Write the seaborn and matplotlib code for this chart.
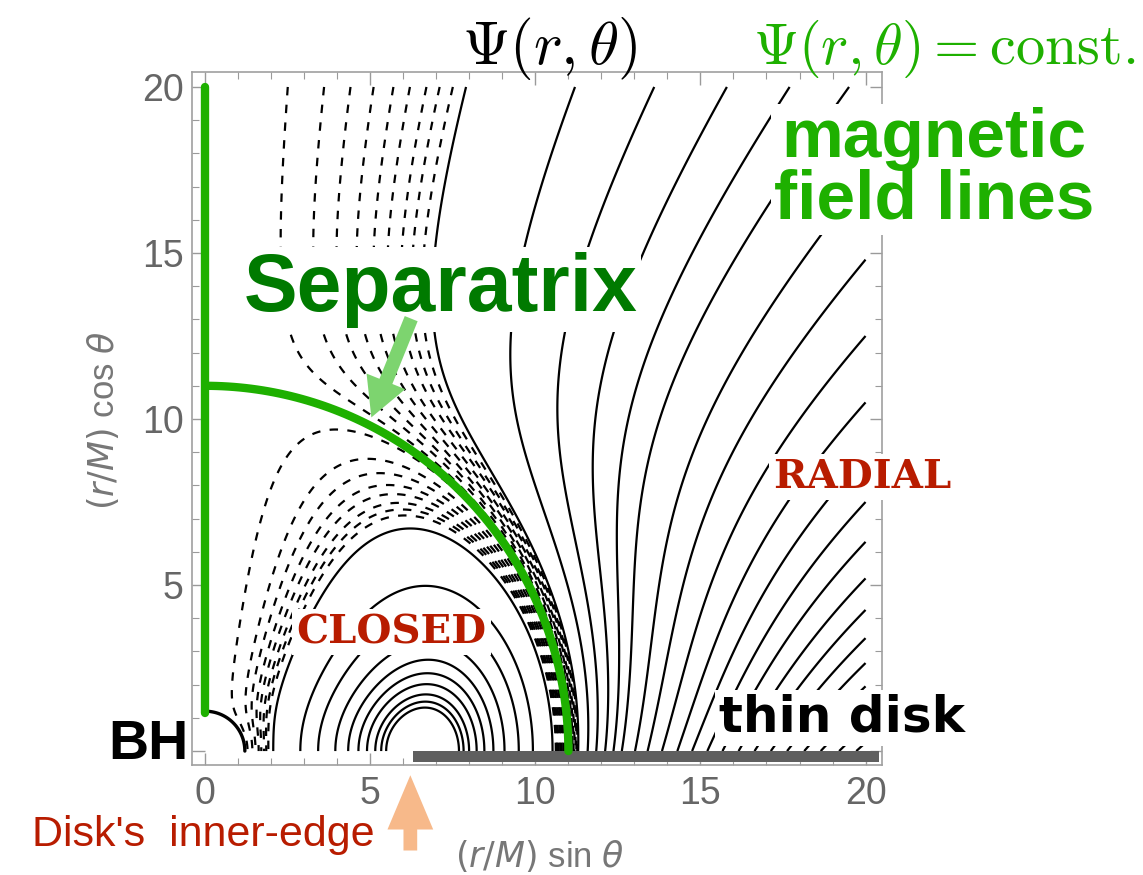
import numpy as np
import matplotlib
matplotlib.use("Agg")
import matplotlib.pyplot as plt
from matplotlib.ticker import MultipleLocator, FixedLocator
import seaborn as sns
import pandas as pd

# geometry (units of M)
r_horizon = 1.2
r_sep = 11.0
r_loop = 6.6            # centre of the closed loops, just past the disk edge
disk_in, disk_out = 6.3, 20.4

# closed region, dashed loops: heights where they cross the line x = 5.3
x_cut = 5.3
closed_dashed_z = [9.37, 8.77, 8.37, 8.0, 7.7, 7.4, 7.17, 6.96]
# closed region, solid loops: left footpoints on the equator
closed_solid_foot = [2.06, 2.88, 3.42, 3.94, 4.33, 4.64, 4.9, 5.15, 5.33, 5.48]
# open region: x where lines leave through the top (z = 20)
open_dashed_top = [2.5, 3.6, 4.4, 5.1, 5.7, 6.2, 6.7, 7.1, 7.5]
open_solid_top = [7.9, 11.2, 13.6, 15.8, 17.7, 19.5]
# open region: z where lines leave through the right side (x = 20)
open_solid_right = [17.3, 14.8, 12.5, 10.5, 8.9, 7.5, 6.3, 5.2, 4.25, 3.4,
                    2.65, 1.95, 1.35, 0.75, 0.25]

# shape of the flux function
q_exp = 0.5
p_exp = q_exp * (r_loop - r_horizon) / (r_sep - r_loop)
m_exp = 1.5


def psi_in(x, z):
    ''' flux inside the separatrix: nested loops around r_loop '''
    r = np.hypot(x, z)
    s = x / r
    g = np.clip(r - r_horizon, 0, None) ** p_exp * np.clip(r_sep - r, 0, None) ** q_exp
    return s ** m_exp * g


def psi_out(x, z):
    ''' flux outside the separatrix: split monopole pushed out by the loops '''
    r = np.hypot(x, z)
    c = z / r
    return (1 - c) * (1 - (r_sep / r) ** 2)


def level_set(vals, styles):
    ''' contour wants increasing levels, keep the style with each one '''
    df = pd.DataFrame({'lev': vals, 'ls': styles}).sort_values('lev')
    return df['lev'].to_numpy(), list(df['ls'])


DASH = (0, (3.8, 4.2))

sns.set_style('ticks')
plt.rcParams['mathtext.fontset'] = 'cm'
plt.rcParams['font.family'] = ['Liberation Sans', 'DejaVu Sans']
plt.rcParams['text.color'] = 'k'

fig = plt.figure(figsize=(11.43, 8.75), dpi=100)
ax = fig.add_axes([0.168, 0.1257, 0.6037, 0.792])

# grid
xs = np.linspace(0, 20, 1201)
X, Z = np.meshgrid(xs, xs)
R = np.hypot(X, Z)
with np.errstate(invalid='ignore', divide='ignore'):
    P_in = np.ma.masked_where((R >= r_sep) | (R <= r_horizon), psi_in(X, Z))
    P_out = np.ma.masked_where(R <= r_sep, psi_out(X, Z))

# levels inside
lev_in = [psi_in(x_cut, z) for z in closed_dashed_z] + \
         [psi_in(x, 0.0) for x in closed_solid_foot]
sty_in = [DASH] * len(closed_dashed_z) + ['solid'] * len(closed_solid_foot)
lev_in, sty_in = level_set(lev_in, sty_in)

# levels outside
lev_out = [psi_out(x, 20.0) for x in open_dashed_top] + \
          [psi_out(x, 20.0) for x in open_solid_top] + \
          [psi_out(20.0, z) for z in open_solid_right]
sty_out = [DASH] * len(open_dashed_top) + \
          ['solid'] * (len(open_solid_top) + len(open_solid_right))
lev_out, sty_out = level_set(lev_out, sty_out)

ax.contour(X, Z, P_in, levels=lev_in, colors='k', linewidths=1.6,
           linestyles=sty_in)
ax.contour(X, Z, P_out, levels=lev_out, colors='k', linewidths=1.6,
           linestyles=sty_out)

# black hole horizon
th = np.linspace(0, np.pi / 2, 100)
sns.lineplot(x=r_horizon * np.sin(th), y=r_horizon * np.cos(th), sort=False,
             color='k', lw=2.4, ax=ax, estimator=None)

# thin disk
ax.fill_between([disk_in, disk_out], -0.33, 0.0, color='#5f5f5f', lw=0, zorder=4)

# separatrix (axis + sphere)
green = '#1eb000'
sns.lineplot(x=[0, 0], y=[r_horizon - 0.05, 20], color=green, lw=6, ax=ax,
             sort=False, estimator=None, zorder=5)
sns.lineplot(x=r_sep * np.sin(th), y=r_sep * np.cos(th), color=green, lw=6,
             ax=ax, sort=False, estimator=None, zorder=5)

ax.set_xlim(-0.4, 20.5)
ax.set_ylim(-0.42, 20.45)
ax.xaxis.set_major_locator(MultipleLocator(5))
ax.yaxis.set_major_locator(FixedLocator([0, 5, 10, 15, 20]))
ax.set_yticklabels(['', '5', '10', '15', '20'])
ax.xaxis.set_minor_locator(MultipleLocator(1))
ax.yaxis.set_minor_locator(MultipleLocator(1))
ax.tick_params(which='both', direction='in', top=True, right=True,
               color='#9a9a9a', labelcolor='#666666', labelsize=27)
ax.tick_params(which='major', length=9, width=1)
ax.tick_params(which='minor', length=5, width=0.8)
ax.tick_params(axis='x', pad=8)
ax.tick_params(axis='y', pad=6)
for sp in ax.spines.values():
    sp.set_color('#a0a0a0')
    sp.set_linewidth(1.2)
ax.set_xlabel('')
ax.set_ylabel('')

# labels
fig.text(0.472, 0.022, r'$(r/M)$ sin $\theta$', fontsize=25, color='#777777',
         ha='center', va='center', math_fontfamily='dejavusans')
fig.text(0.09, 0.52, r'$(r/M)$ cos $\theta$', fontsize=25, color='#777777',
         ha='center', va='center', rotation=90, math_fontfamily='dejavusans')
fig.text(0.481, 0.944, r'$\Psi(r,\theta)$', fontsize=44, color='k',
         ha='center', va='center')
fig.text(0.826, 0.944, r'$\Psi(r,\theta) = \mathrm{const.}$', fontsize=42,
         color=green, ha='center', va='center')
fig.text(0.817, 0.806, 'magnetic\nfield lines', fontsize=50, color=green,
         fontweight='bold', ha='center', va='center', linespacing=0.95,
         bbox=dict(facecolor='white', edgecolor='none', pad=2))

box = dict(facecolor='white', edgecolor='none', pad=3)
ax.text(7.12, 13.9, 'Separatrix', fontsize=58, color='#007a00',
        fontweight='bold', ha='center', va='center', bbox=box, zorder=6)
ax.annotate('', xy=(5.0, 9.97), xytext=(6.27, 13.1),
            arrowprops=dict(arrowstyle='simple,head_width=1.5,head_length=1.4,tail_width=0.5',
                            color='#7dd46f', lw=0, mutation_scale=20), zorder=7)
red = '#b81c00'
ax.text(5.64, 3.58, 'CLOSED', fontsize=29, color=red, family='DejaVu Serif',
        fontweight='bold', ha='center', va='center', bbox=box, zorder=6)
ax.text(19.9, 8.25, 'RADIAL', fontsize=29, color=red, family='DejaVu Serif',
        fontweight='bold', ha='center', va='center', bbox=box, zorder=6,
        clip_on=False)
ax.text(19.3, 1.0, 'thin disk', fontsize=36, color='k', family='DejaVu Sans',
        fontweight='bold', ha='center', va='center', bbox=box, zorder=6,
        clip_on=False)
fig.text(0.130, 0.149, 'BH', fontsize=40, fontweight='bold', color='k',
         ha='center', va='center')
fig.text(0.178, 0.046, "Disk's  inner-edge", fontsize=31, color=red,
         ha='center', va='center')
fig.patches.append(matplotlib.patches.FancyArrow(
    0.359, 0.028, 0, 0.086, width=0.012, head_width=0.04, head_length=0.062,
    length_includes_head=True, transform=fig.transFigure, color='#f7b98a',
    lw=0))

fig.savefig('out.png', dpi=100)
